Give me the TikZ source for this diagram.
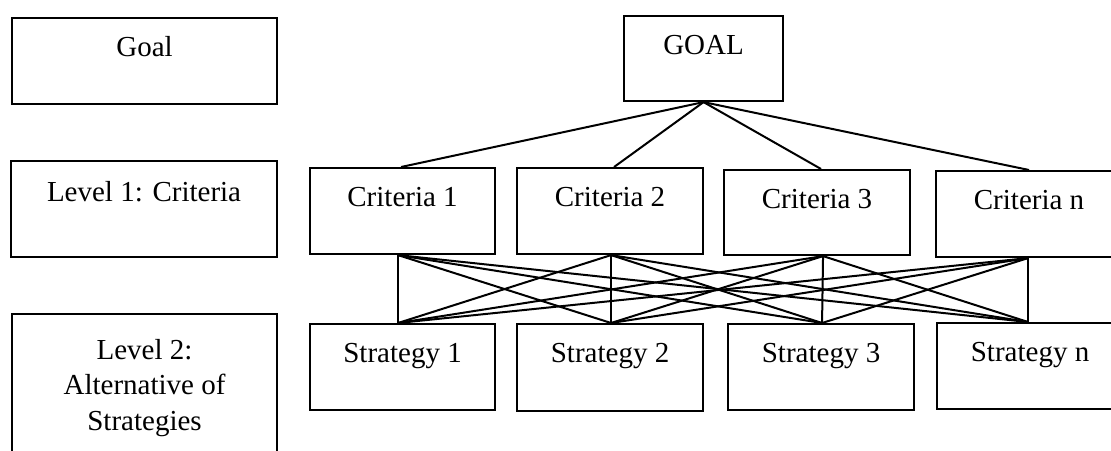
\documentclass[tikz,border=0pt]{standalone}
\usepackage{fontspec}
\setmainfont{Liberation Serif}
\begin{document}
\begin{tikzpicture}[x=1pt,y=-1pt,
  line width=2.1pt,
  box/.style={draw, rectangle, anchor=north west, inner sep=0pt, align=center,
    font=\fontsize{29}{35.5}\selectfont, text height=38pt},
  link/.style={line width=2pt}]
\clip (0,0) rectangle (1111,450);
% left column
\node[box, minimum width=265pt, text depth=48pt] (lgoal) at (11,17) {Goal};
\node[box, minimum width=266pt, text height=40pt, text depth=56pt] (llev1) at (10,160) {Level 1: Criteria};
\node[box, minimum width=265pt, text height=116pt, text depth=44pt] (llev2) at (11,313) {Level 2:\\Alternative of\\Strategies};
% goal
\node[box, minimum width=159pt, text depth=47pt] (goal) at (623,15) {GOAL};
% criteria
\node[box, minimum width=185pt, text depth=48pt] (c1) at (309,167) {Criteria 1};
\node[box, minimum width=186pt, text depth=48pt] (c2) at (516,167) {Criteria 2};
\node[box, minimum width=186pt, text depth=47pt] (c3) at (723,169) {Criteria 3};
\node[box, minimum width=186pt, text depth=48pt] (cn) at (935,170) {Criteria n};
% strategies
\node[box, minimum width=185pt, text depth=48pt] (s1) at (309,323) {Strategy 1};
\node[box, minimum width=186pt, text depth=49pt] (s2) at (516,323) {Strategy 2};
\node[box, minimum width=186pt, text depth=48pt] (s3) at (727,323) {Strategy 3};
\node[box, minimum width=186pt, text depth=48pt] (sn) at (936,322) {Strategy n};
% goal links
\draw[link] (goal.south) -- ([xshift=-1.5pt]c1.north);
\draw[link] (goal.south) -- ([xshift=4pt]c2.north);
\draw[link] (goal.south) -- ([xshift=4pt]c3.north);
\draw[link] (goal.south) -- (cn.north);
% criteria-strategy link points
\coordinate (t1) at ([xshift=-4.5pt]c1.south);
\coordinate (t2) at ([xshift=1pt]c2.south);
\coordinate (t3) at ([xshift=6pt]c3.south);
\coordinate (t4) at ([xshift=-1pt]cn.south);
\coordinate (b1) at ([xshift=-4.5pt]s1.north);
\coordinate (b2) at ([xshift=1pt]s2.north);
\coordinate (b3) at ([xshift=1pt]s3.north);
\coordinate (b4) at ([xshift=-2pt]sn.north);
\foreach \i in {1,2,3,4}{
  \foreach \j in {1,2,3,4}{
    \draw[link] (t\i) -- (b\j);
  }
}
\end{tikzpicture}
\end{document}
